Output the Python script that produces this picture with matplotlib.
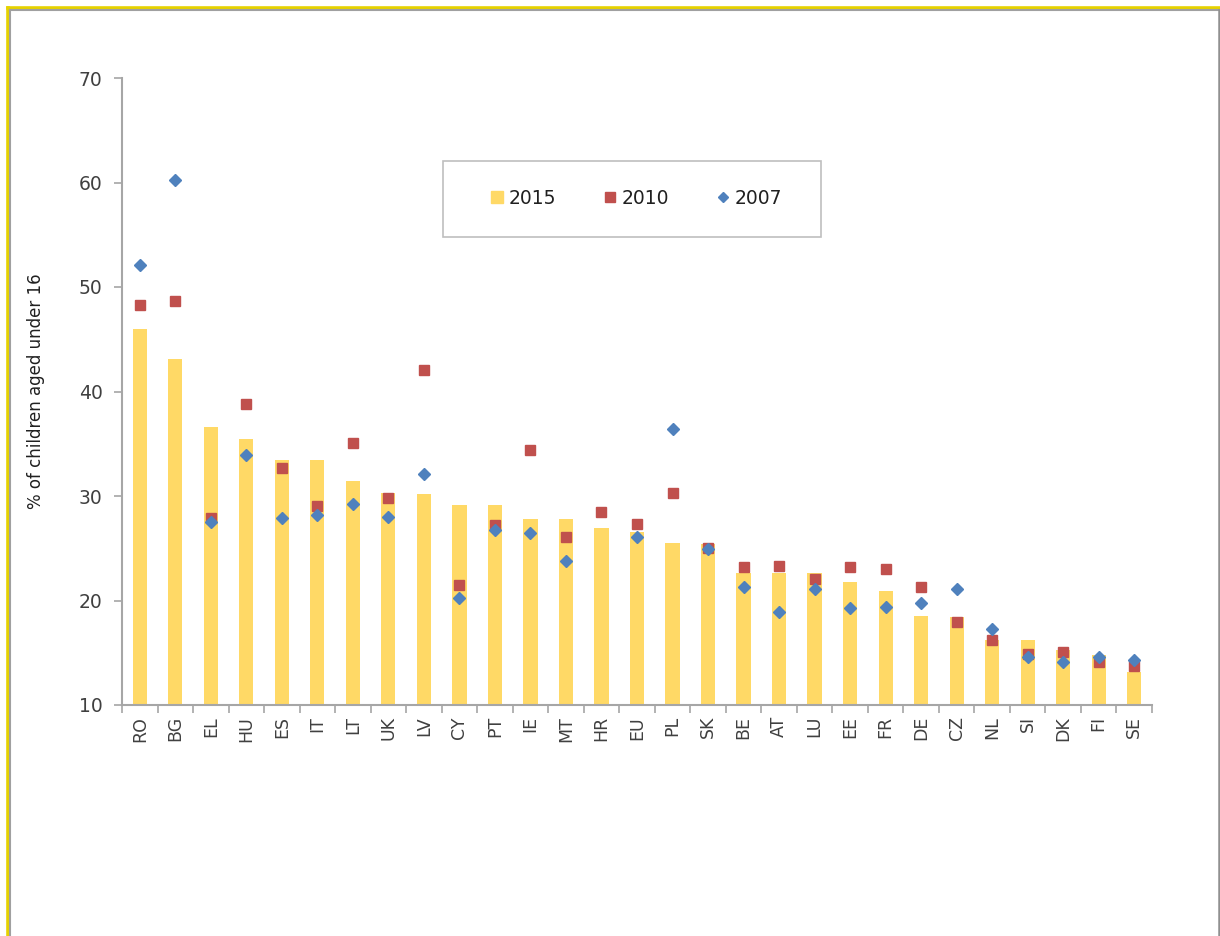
import numpy as np
import matplotlib
matplotlib.use("Agg")
from matplotlib import pyplot as plt
from matplotlib.lines import Line2D
from matplotlib.patches import Rectangle

plt.rcParams['font.family'] = ['DejaVu Sans']

countries = ["RO", "BG", "EL", "HU", "ES", "IT", "LT", "UK", "LV", "CY", "PT", "IE", "MT", "HR",
             "EU", "PL", "SK", "BE", "AT", "LU", "EE", "FR", "DE", "CZ", "NL", "SI", "DK", "FI", "SE"]
v2015 = [46.0, 43.1, 36.6, 35.5, 33.4, 33.4, 31.4, 30.3, 30.2, 29.1, 29.1, 27.8, 27.8, 26.9,
         26.6, 25.5, 25.4, 22.6, 22.6, 22.6, 21.8, 20.9, 18.5, 18.4, 16.2, 16.2, 15.3, 14.8, 13.2]
v2010 = [48.3, 48.7, 27.9, 38.8, 32.7, 29.0, 35.1, 29.8, 42.1, 21.5, 27.2, 34.4, 26.1, 28.5,
         27.3, 30.3, 25.0, 23.2, 23.3, 22.1, 23.2, 23.0, 21.3, 17.9, 16.2, 14.9, 15.1, 14.1, 13.7]
v2007 = [52.1, 60.2, 27.5, 33.9, 27.9, 28.2, 29.2, 28.0, 32.1, 20.2, 26.7, 26.5, 23.8, np.nan,
         26.1, 36.4, 24.9, 21.3, 18.9, 21.1, 19.3, 19.4, 19.8, 21.1, 17.3, 14.6, 14.1, 14.6, 14.3]

c_bar = "#FFD966"
c_red = "#C0504D"
c_blue = "#4F81BD"
c_axis = "#A6A6A6"
c_text = "#404040"

W, H = 1220, 936
fig = plt.figure(figsize=(W / 100, H / 100), dpi=100)
ax = fig.add_axes([122 / W, 1 - 705 / H, (1152 - 122) / W, (705 - 78) / H])

x = np.arange(len(countries))
ax.bar(x, v2015, width=0.4, color=c_bar, zorder=1)
ax.plot(x, v2010, ls="none", marker="s", ms=7.5, color=c_red, zorder=2)
ax.plot(x, v2007, ls="none", marker="D", ms=6.5, color=c_blue, zorder=3)

ax.set_xlim(-0.5, len(countries) - 0.5)
ax.set_ylim(10, 70)
ax.set_yticks(np.arange(10, 71, 10))
ax.set_xticks(x)
ax.set_xticklabels(countries, rotation=90)
ax.set_xticks(np.arange(-0.5, len(countries)), minor=True)
ax.tick_params(axis="x", which="major", length=0, pad=8, labelsize=12.5, labelcolor=c_text)
ax.tick_params(axis="x", which="minor", length=6, color=c_axis, width=1.2)
ax.tick_params(axis="y", length=6, color=c_axis, width=1.2, pad=8, labelsize=13.5, labelcolor=c_text)
for s in ["top", "right"]:
    ax.spines[s].set_visible(False)
for s in ["left", "bottom"]:
    ax.spines[s].set_color(c_axis)
    ax.spines[s].set_linewidth(1.5)
ax.set_ylabel("% of children aged under 16", fontsize=12, color="#202020", labelpad=24)

# legend box
fig.patches.append(Rectangle((443 / W, 1 - 237 / H), (821 - 443) / W, (237 - 161) / H,
                             transform=fig.transFigure, fill=False, ec="#BFBFBF", lw=1.2))
handles = [Line2D([], [], ls="none", marker="s", ms=8, color=c_bar),
           Line2D([], [], ls="none", marker="s", ms=7, color=c_red),
           Line2D([], [], ls="none", marker="D", ms=5, color=c_blue)]
fig.legend(handles, ["2015", "2010", "2007"], loc="center", bbox_to_anchor=(635 / W, 1 - 198 / H),
           ncol=3, frameon=False, fontsize=13.5, handletextpad=0.1, columnspacing=2.4,
           handlelength=1.0, labelcolor="#202020")

# outer frame
fig.add_artist(Line2D([7.5 / W, 7.5 / W], [0, 1 - 7.5 / H], color="#E6D200", lw=2.6))
fig.add_artist(Line2D([7.5 / W, 1], [1 - 7.5 / H, 1 - 7.5 / H], color="#E6D200", lw=2.6))
fig.add_artist(Line2D([10 / W, 10 / W], [0, 1 - 10 / H], color="#A0A0A0", lw=1.5))
fig.add_artist(Line2D([10 / W, 1218.5 / W], [1 - 10 / H, 1 - 10 / H], color="#A0A0A0", lw=1.5))
fig.add_artist(Line2D([1218.5 / W, 1218.5 / W], [0, 1 - 10 / H], color="#909090", lw=1.8))

fig.savefig("out.png", dpi=100)
